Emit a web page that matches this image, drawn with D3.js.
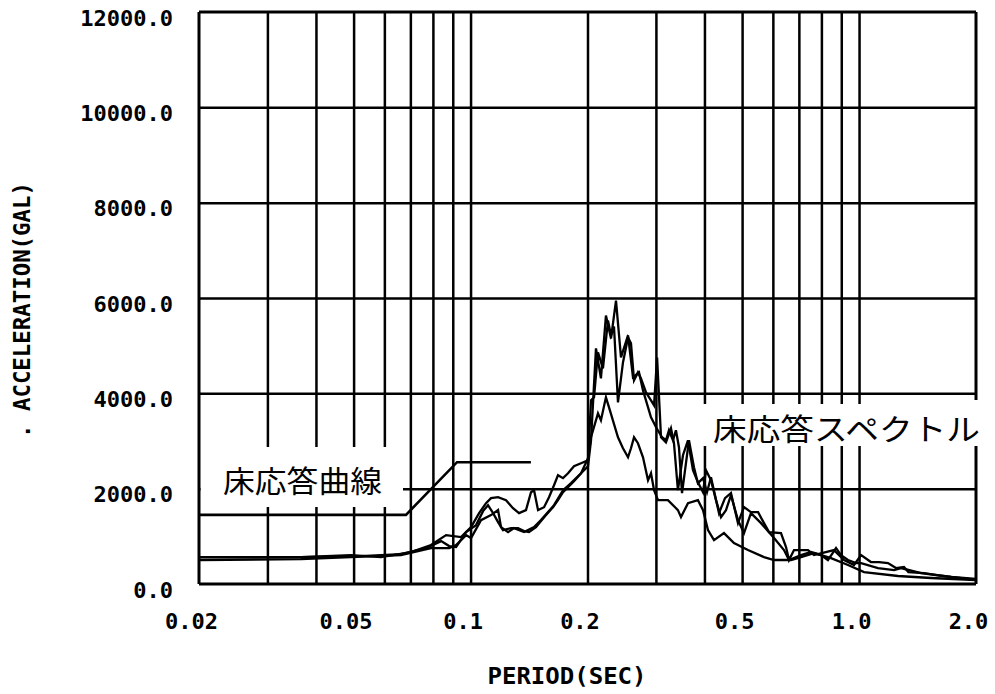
<!DOCTYPE html>
<html>
<head>
<meta charset="utf-8">
<script src="https://cdn.jsdelivr.net/npm/d3@7"></script>
<style>
  html, body { margin: 0; padding: 0; background: #fff; }
  svg { display: block; }
</style>
</head>
<body>
<svg id="chart" width="995" height="694"></svg>
<script>
// ---------------- DATA ----------------
const xTickValues = [0.02, 0.05, 0.1, 0.2, 0.5, 1.0, 2.0];
const xTickLabels = ["0.02", "0.05", "0.1", "0.2", "0.5", "1.0", "2.0"];
const xGridValues = [0.03, 0.04, 0.05, 0.06, 0.07, 0.08, 0.09, 0.1,
                     0.2, 0.3, 0.4, 0.5, 0.6, 0.7, 0.8, 0.9, 1.0];
const yTickValues = [0, 2000, 4000, 6000, 8000, 10000, 12000];

const xTitle = "PERIOD(SEC)";
const yTitle = ". ACCELERATION(GAL)";
const curveLabel = "床応答曲線";
const spectrumLabel = "床応答スペクトル";

// design floor response curve
const designPeriods = [0.02, 0.0682, 0.0923, 0.143];
const designAccel   = [1450, 1450, 2555, 2555];

// spectrum 1 (highest peak)
const periodsA = [0.020,0.0366,0.0522,0.0662,0.0768,0.0840,0.0881,0.0918,0.0974,0.1033,
  0.1077,0.1109,0.1143,0.1177,0.1212,0.1271,0.1325,0.1373,0.1414,0.1474,
  0.1518,0.1564,0.1630,0.1679,0.1730,0.1782,0.1846,0.1925,0.2006,0.2042,
  0.2103,0.2166,0.2231,0.2299,0.2368,0.2439,0.2543,0.2619,0.2714,0.2779,
  0.2914,0.3003,0.3110,0.3184,0.3241,0.3319,0.3378,0.3439,0.3502,0.3649,
  0.3759,0.3848,0.3966,0.4061,0.4158,0.4360,0.4518,0.4681,0.4879,0.5056,
  0.5270,0.5497,0.5693,0.5865,0.6296,0.6486,0.6603,0.6801,0.7389,0.7657,
  0.8621,0.9147,0.9707,1.012,1.073,1.126,1.187,1.245,1.305,1.340,
  1.470,1.588,1.725,2.0];
const accelA = [565,565,586,628,754,900,796,775,1089,1235,
  1529,1654,1487,1298,1131,1173,1173,1110,1089,1194,
  1319,1445,1612,1759,1926,2031,2157,2324,2471,3015,
  4942,4314,5633,5151,5947,4753,5214,4335,4439,4062,
  3497,3287,3078,3015,3225,3015,3225,2869,1906,3015,
  2450,2115,2220,1926,2241,1487,1801,1906,1277,1612,
  1508,1508,1277,1089,1068,775,503,712,712,607,
  712,503,398,607,461,461,440,335,356,251,
  230,188,147,105];

// spectrum 2
const periodsB = [0.020,0.0366,0.0492,0.0588,0.0703,0.0791,0.0865,0.0945,0.1003,0.1052,
  0.1096,0.1129,0.1177,0.1234,0.1286,0.1333,0.1389,0.1431,0.1457,0.1492,
  0.1546,0.1592,0.1640,0.1679,0.1730,0.1782,0.1846,0.1925,0.2006,0.2042,
  0.2079,0.2128,0.2192,0.2258,0.2299,0.2340,0.2396,0.2468,0.2543,0.2588,
  0.2635,0.2697,0.2746,0.2829,0.2914,0.2967,0.3021,0.3092,0.3184,0.3280,
  0.3339,0.3418,0.3522,0.3628,0.3737,0.3848,0.3966,0.4037,0.4158,0.4283,
  0.4412,0.4545,0.4681,0.4879,0.5056,0.5270,0.5593,0.6041,0.6409,0.6603,
  0.7089,0.7522,0.7981,0.8316,0.8725,0.8986,0.9366,0.9823,1.012,1.119,
  1.231,1.282,1.444,1.725,2.0];
const accelB = [565,565,607,565,670,817,1026,984,1194,1487,
  1696,1801,1822,1759,1591,1487,1550,1926,1968,1550,
  1612,1822,2073,2282,2220,2324,2471,2534,2597,3853,
  3916,4858,4523,5528,5214,5403,3811,4649,5172,5047,
  4272,4439,4314,4020,3853,3748,4753,3078,2973,3266,
  2953,1968,2701,3015,2387,2136,1926,2387,2178,1759,
  1403,1550,1864,1340,1068,1487,1277,963,712,503,
  607,670,607,503,754,607,503,440,440,335,
  293,335,230,147,84];

// spectrum 3 (lowest peak)
const periodsC = [0.020,0.0366,0.0492,0.0662,0.0791,0.0881,0.0918,0.0974,0.1003,0.1064,
  0.1129,0.1177,0.1198,0.1249,0.1294,0.1373,0.1457,0.1518,0.1583,0.1640,
  0.1730,0.1814,0.1925,0.2006,0.2042,0.2128,0.2166,0.2231,0.2272,0.2396,
  0.2468,0.2543,0.2588,0.2635,0.2697,0.2779,0.2863,0.2914,0.2967,0.3038,
  0.3222,0.3418,0.3481,0.3628,0.3848,0.3966,0.4085,0.4233,0.4491,0.4765,
  0.5177,0.5693,0.6041,0.6681,0.7089,0.7657,0.8469,0.9366,1.030,1.260,
  1.532,2.0];
const accelC = [503,523,565,607,754,754,817,1026,963,1340,
  1445,1550,1194,1089,1173,1089,1194,1340,1508,1654,
  1968,2115,2324,2638,3078,3581,3434,3916,3706,3078,
  2848,2659,2848,3078,2953,2659,2178,2324,1968,1759,
  1759,1550,1403,1696,1759,1550,1131,921,1068,859,
  712,565,503,503,565,649,544,398,251,168,
  126,84];

// ---------------- CHART ----------------
const svg = d3.select("#chart");
svg.append("rect").attr("width", 995).attr("height", 694).attr("fill", "#fff");

const plotL = 199, plotR = 976, plotT = 12, plotB = 584;
const x = d3.scaleLog().domain([0.02, 2.0]).range([plotL, plotR]);
const y = d3.scaleLinear().domain([0, 12000]).range([plotB, plotT]);

const monoFont = "'DejaVu Sans Mono', 'Liberation Mono', monospace";

// grid (vertical)
const gx = svg.append("g")
  .attr("transform", `translate(0,${plotT})`)
  .call(d3.axisBottom(x).tickValues(xGridValues).tickSize(plotB - plotT).tickFormat(""));
gx.select(".domain").remove();
gx.selectAll("line").attr("stroke", "#000").attr("stroke-width", 2.5);

// grid (horizontal)
const gy = svg.append("g")
  .attr("transform", `translate(${plotL},0)`)
  .call(d3.axisRight(y).tickValues(yTickValues.slice(1, -1)).tickSize(plotR - plotL).tickFormat(""));
gy.select(".domain").remove();
gy.selectAll("line").attr("stroke", "#000").attr("stroke-width", 2.5);

// curves
const lineGen = d3.line().x(d => x(d[0])).y(d => y(d[1]));
const series = [
  d3.zip(periodsC, accelC),
  d3.zip(periodsB, accelB),
  d3.zip(periodsA, accelA)
];
svg.append("g").selectAll("path").data(series).join("path")
  .attr("d", lineGen)
  .attr("fill", "none")
  .attr("stroke", "#000")
  .attr("stroke-width", 2.3)
  .attr("stroke-linejoin", "miter");

svg.append("path")
  .attr("d", lineGen(d3.zip(designPeriods, designAccel)))
  .attr("fill", "none")
  .attr("stroke", "#000")
  .attr("stroke-width", 2.6);

// label boxes (hide grid)
svg.append("rect").attr("x", plotL + 1.5).attr("y", 447).attr("width", 403 - plotL - 1.5).attr("height", 60).attr("fill", "#fff");
svg.append("text")
  .attr("x", 223).attr("y", 479)
  .attr("dominant-baseline", "central")
  .attr("font-family", "'Noto Sans CJK JP', sans-serif")
  .attr("font-size", 30)
  .attr("textLength", 159).attr("lengthAdjust", "spacingAndGlyphs")
  .attr("fill", "#000")
  .text(curveLabel);

svg.append("rect").attr("x", 700).attr("y", 404).attr("width", 290).attr("height", 42).attr("fill", "#fff");
svg.append("text")
  .attr("x", 713).attr("y", 427)
  .attr("dominant-baseline", "central")
  .attr("font-family", "'Noto Sans CJK JP', sans-serif")
  .attr("font-size", 30)
  .attr("textLength", 267).attr("lengthAdjust", "spacingAndGlyphs")
  .attr("fill", "#000")
  .text(spectrumLabel);

// border (interrupted at right by label box)
const border = svg.append("g").attr("stroke", "#000").attr("stroke-width", 3).attr("fill", "none");
border.append("line").attr("x1", plotL).attr("x2", plotR).attr("y1", plotT).attr("y2", plotT);
border.append("line").attr("x1", plotL).attr("x2", plotR).attr("y1", plotB).attr("y2", plotB);
border.append("line").attr("x1", plotL).attr("x2", plotL).attr("y1", plotT).attr("y2", plotB);
border.append("line").attr("x1", plotR).attr("x2", plotR).attr("y1", plotT).attr("y2", 400);
border.append("line").attr("x1", plotR).attr("x2", plotR).attr("y1", 446).attr("y2", plotB);

// x axis labels
const ax = svg.append("g")
  .attr("transform", `translate(-8,${plotB})`)
  .call(d3.axisBottom(x).tickValues(xTickValues).tickSize(0).tickPadding(37)
    .tickFormat((d, i) => xTickLabels[i]));
ax.select(".domain").remove();
ax.selectAll("text").attr("font-family", monoFont).attr("font-weight", "bold")
  .attr("font-size", 22).attr("fill", "#000").attr("dy", "0.35em");

// y axis labels
const ay = svg.append("g")
  .attr("transform", `translate(173,6)`)
  .call(d3.axisLeft(y).tickValues(yTickValues).tickSize(0).tickPadding(0)
    .tickFormat(d3.format(".1f")));
ay.select(".domain").remove();
ay.selectAll("text").attr("font-family", monoFont).attr("font-weight", "bold")
  .attr("font-size", 22).attr("fill", "#000");

// axis titles
svg.append("text")
  .attr("x", 567).attr("y", 676)
  .attr("text-anchor", "middle").attr("dominant-baseline", "central")
  .attr("font-family", monoFont).attr("font-weight", "bold").attr("font-size", 23)
  .attr("textLength", 159).attr("lengthAdjust", "spacingAndGlyphs")
  .attr("fill", "#000")
  .text(xTitle);

svg.append("text")
  .attr("transform", "translate(22,310) rotate(-90)")
  .attr("text-anchor", "middle").attr("dominant-baseline", "central")
  .attr("font-family", monoFont).attr("font-weight", "bold").attr("font-size", 23)
  .attr("textLength", 256).attr("lengthAdjust", "spacingAndGlyphs")
  .attr("fill", "#000")
  .text(yTitle);
</script>
</body>
</html>
